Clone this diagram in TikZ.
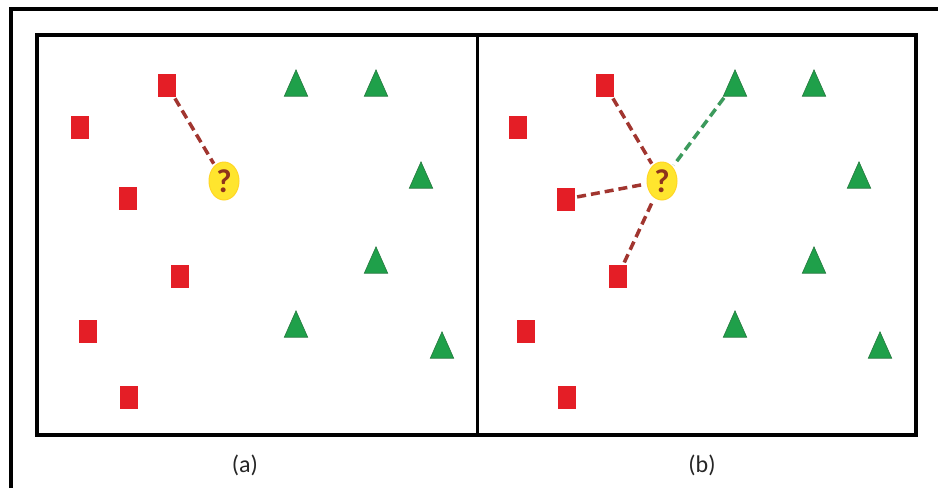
\documentclass[tikz,border=0pt]{standalone}
\usepackage{fontspec}
\setmainfont{Carlito}
\usetikzlibrary{shapes.geometric}
\definecolor{sqred}{HTML}{E41E26}
\definecolor{trgreen}{HTML}{1FA04A}
\definecolor{trgreenedge}{HTML}{23773C}
\definecolor{qyellow}{HTML}{FFE52E}
\definecolor{qbrown}{HTML}{8E341C}
\definecolor{linered}{HTML}{A1352F}
\definecolor{linegreen}{HTML}{3C9A5C}
\tikzset{
  sq/.style={rectangle, fill=sqred, minimum width=18pt, minimum height=23pt, inner sep=0pt},
  tri/.style={rectangle, minimum width=23pt, minimum height=26pt, inner sep=0pt},
  trifill/.style={fill=trgreen, draw=trgreenedge, line width=0.6pt, line join=miter},
  qnode/.style={ellipse, fill=qyellow, draw=qyellow!85!orange, line width=1pt, minimum width=30pt, minimum height=38pt, inner sep=0pt, font=\bfseries\fontsize{33pt}{33pt}\selectfont, text=qbrown},
  redlink/.style={draw=linered, line width=3.5pt, dash pattern=on 9pt off 5pt, shorten <=2pt, shorten >=2pt},
  greenlink/.style={draw=linegreen, line width=3.5pt, dash pattern=on 9pt off 5pt, shorten <=2pt, shorten >=2pt},
  frame/.style={draw=black, line width=3.5pt},
  caption/.style={font=\fontsize{24pt}{24pt}\selectfont, text=black!85}
}
\begin{document}
\begin{tikzpicture}[x=1pt,y=-1pt]
\useasboundingbox (0,0) rectangle (938,488);
\fill[white] (0,0) rectangle (938,488);
% outer frame (partial)
\draw[frame] (11,488) -- (11,9) -- (938,9);
% inner boxes
\draw[frame] (37,35) rectangle (916,435);
\draw[frame] (477.5,35) -- (477.5,435);
% panel (a)
\node[sq] (a1) at (167,85) {};
\node[sq] (a2) at (80,127) {};
\node[sq] (a3) at (128,198) {};
\node[sq] (a4) at (180,276) {};
\node[sq] (a5) at (88,331) {};
\node[sq] (a6) at (129,397) {};
\node[tri] (at1) at (296,83) {};
\node[tri] (at2) at (376,83) {};
\node[tri] (at3) at (421,175) {};
\node[tri] (at4) at (376,260) {};
\node[tri] (at5) at (296,324) {};
\node[tri] (at6) at (442,345) {};
\node[qnode] (qa) at (224,181) {?};
\draw[redlink] (a1) -- (qa);
% panel (b)
\node[sq] (b1) at (605,85) {};
\node[sq] (b2) at (518,127) {};
\node[sq] (b3) at (566,199) {};
\node[sq] (b4) at (618,276) {};
\node[sq] (b5) at (526,331) {};
\node[sq] (b6) at (567,397) {};
\node[tri] (bt1) at (735,83) {};
\node[tri] (bt2) at (814,83) {};
\node[tri] (bt3) at (859,175) {};
\node[tri] (bt4) at (814,260) {};
\node[tri] (bt5) at (735,324) {};
\node[tri] (bt6) at (880,345) {};
\foreach \t in {at1,at2,at3,at4,at5,at6,bt1,bt2,bt3,bt4,bt5,bt6}
  \draw[trifill] (\t.south west) -- (\t.south east) -- (\t.north) -- cycle;
\node[qnode] (qb) at (662,181) {?};
\draw[redlink] (b1) -- (qb);
\draw[redlink] (b3) -- (qb);
\draw[redlink] (b4) -- (qb);
\draw[greenlink] (bt1) -- (qb);
% captions
\node[caption] (capa) at (245,465) {(a)};
\node[caption] (capb) at (702,465) {(b)};
\end{tikzpicture}
\end{document}
